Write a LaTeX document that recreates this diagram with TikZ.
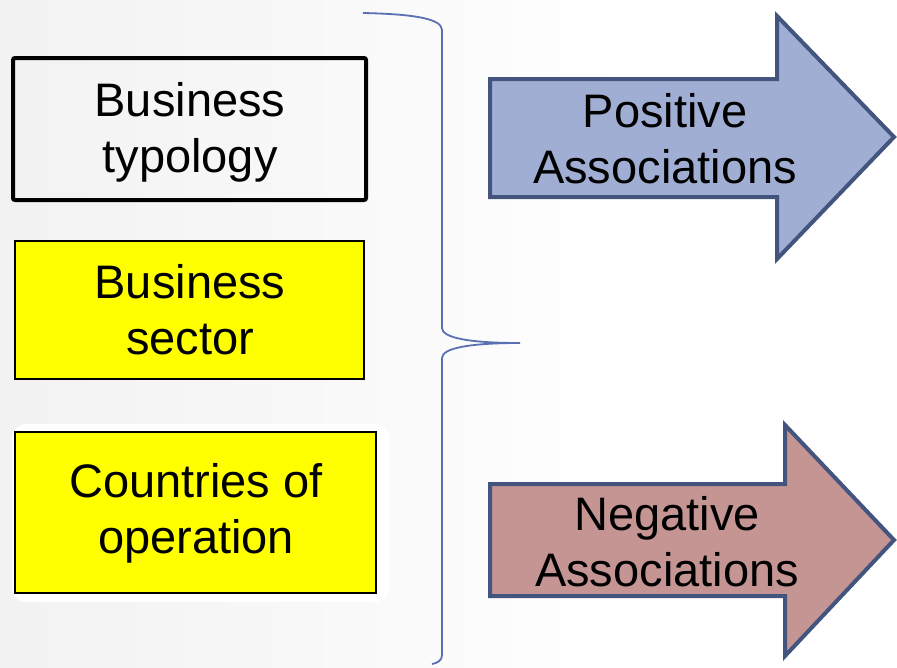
\documentclass[tikz,border=0pt]{standalone}
\usepackage{fontspec}
\setmainfont{Liberation Sans}
\definecolor{bgleft}{RGB}{232,232,232}
\definecolor{bracec}{RGB}{90,112,178}
\definecolor{arrowline}{RGB}{67,84,126}
\definecolor{posfill}{RGB}{160,174,211}
\definecolor{negfill}{RGB}{197,149,147}
\definecolor{boxyellow}{RGB}{255,255,0}
\pgfdeclarehorizontalshading{bgshade}{100bp}{color(0bp)=(bgleft); color(60bp)=(white); color(100bp)=(white)}
\tikzset{
  lbl/.style={align=center, font=\fontsize{47}{56}\selectfont, text=black, inner sep=0pt},
  bigarrow/.style={draw=arrowline, line width=4pt, line join=miter},
}
\begin{document}
\begin{tikzpicture}[x=1pt,y=-1pt]
\useasboundingbox (0,0) rectangle (897,667);
% background
\shade[shading=bgshade] (0,0) rectangle (897,667);
% halo behind third box
\fill[white, rounded corners=14pt] (12,424) rectangle (389,602);
% left boxes
\draw[line width=4pt, rounded corners=2pt] (13,58) rectangle (366,200);
\node[lbl] (typ) at (190,132) {Business\\typology};
\draw[fill=boxyellow, line width=1.2pt] (15,241) rectangle (364,379);
\node[lbl] (sec) at (190,310) {Business\\sector};
\draw[fill=boxyellow, line width=1.2pt] (15,432) rectangle (376,593);
\node[lbl] (cty) at (196,513) {Countries of\\operation};
% brace
\coordinate (btop) at (363,13);
\coordinate (btip) at (520,343);
\coordinate (bbot) at (432,664);
\draw[bracec, line width=1.8pt] (btop) .. controls (410,14) and (442,18) .. (442,30)
  -- (442,328) .. controls (442,338) and (470,343) .. (btip)
  .. controls (470,343) and (442,348) .. (442,358)
  -- (442,655) .. controls (442,660) and (438,663) .. (bbot);
% positive arrow
\draw[bigarrow, fill=posfill] (490,79) -- (777,79) -- (777,16) -- (894,137)
  -- (777,259) -- (777,197) -- (490,197) -- cycle;
\node[lbl] (pos) at (665,139) {Positive\\Associations};
% negative arrow
\draw[bigarrow, fill=negfill] (490,484) -- (785,484) -- (785,425) -- (894,540)
  -- (785,656) -- (785,596) -- (490,596) -- cycle;
\node[lbl] (neg) at (667,542) {Negative\\Associations};
\end{tikzpicture}
\end{document}
